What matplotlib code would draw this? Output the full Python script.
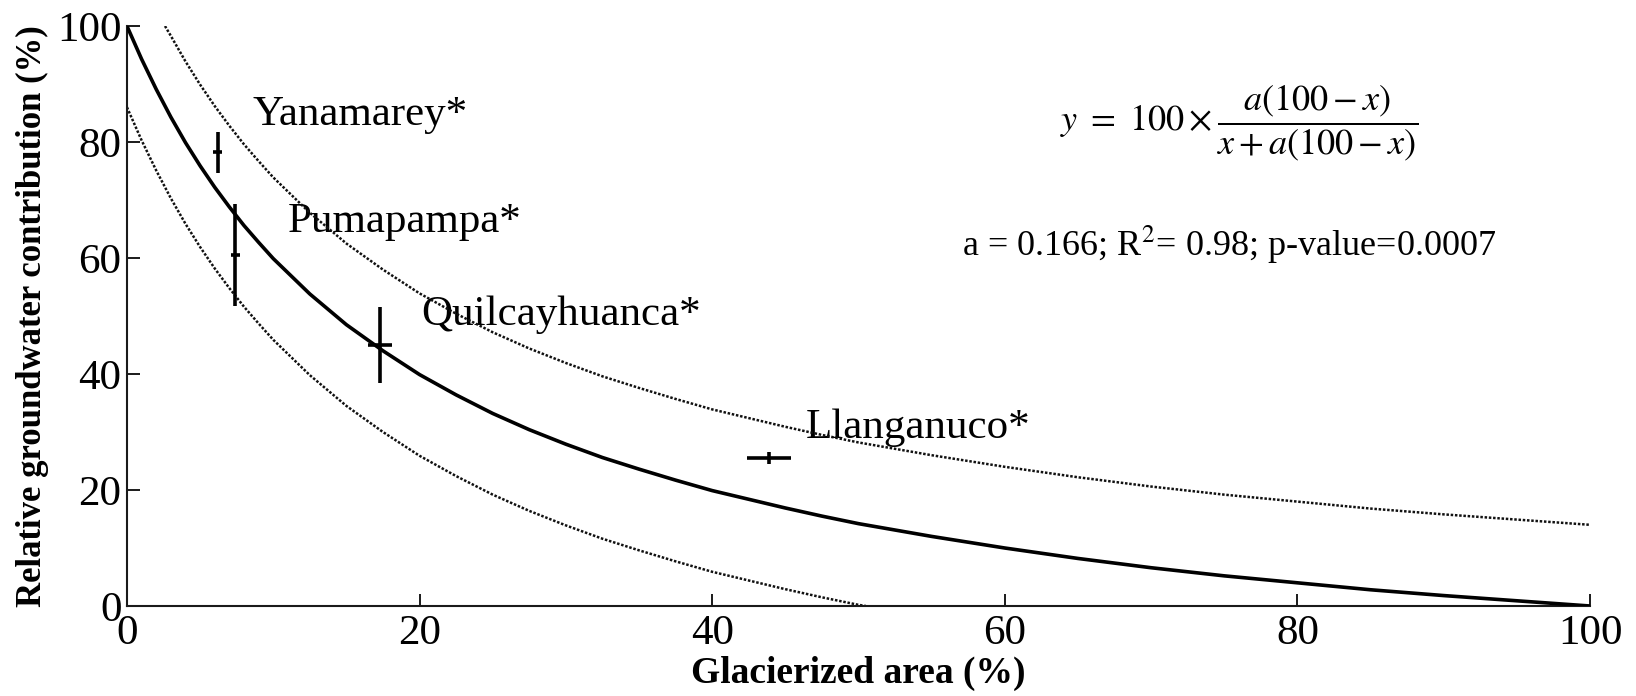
import numpy as np
import matplotlib
matplotlib.use("Agg")
import matplotlib.pyplot as plt

plt.rcParams['font.family'] = ['Liberation Serif', 'DejaVu Serif']
plt.rcParams['mathtext.fontset'] = 'stix'

# fitted curve
fit_x = [0, 1, 2, 3, 4, 5, 6, 7, 8, 9, 10, 12.5, 15, 17.5, 20, 22.5, 25, 27.5,
         30, 32.5, 35, 37.5, 40, 42.5, 45, 47.5, 50, 55, 60, 65, 70, 75, 80,
         85, 90, 95, 100]
fit_y = [100, 94.3, 89.1, 84.3, 79.9, 75.9, 72.2, 68.8, 65.6, 62.7, 59.9, 53.8,
         48.5, 44.0, 39.9, 36.4, 33.2, 30.4, 27.9, 25.6, 23.6, 21.7, 19.9, 18.4,
         16.9, 15.5, 14.2, 12.0, 10.0, 8.2, 6.6, 5.2, 4.0, 2.8, 1.8, 0.9, 0]

# upper dotted bound
up_x = [2.6, 3, 4, 5, 6, 7, 8, 9, 10, 12.5, 15, 17.5, 20, 22.5, 25, 27.5, 30,
        32.5, 35, 37.5, 40, 42.5, 45, 47.5, 50, 55, 60, 65, 70, 75, 80, 85,
        90, 95, 100]
up_y = [100, 98.3, 93.9, 89.9, 86.2, 82.8, 79.6, 76.7, 73.9, 67.8, 62.5, 58.0,
        53.9, 50.4, 47.2, 44.4, 41.9, 39.6, 37.6, 35.7, 33.9, 32.4, 30.9, 29.5,
        28.2, 26.0, 24.0, 22.2, 20.6, 19.2, 18.0, 16.8, 15.8, 14.9, 14.0]

# lower dotted bound
lo_x = [0, 1, 2, 3, 4, 5, 6, 7, 8, 9, 10, 12.5, 15, 17.5, 20, 22.5, 25, 27.5,
        30, 32.5, 35, 37.5, 40, 42.5, 45, 47.5, 50, 50.5]
lo_y = [86, 80.3, 75.1, 70.3, 65.9, 61.9, 58.2, 54.8, 51.6, 48.7, 45.9, 39.8,
        34.5, 30.0, 25.9, 22.4, 19.2, 16.4, 13.9, 11.6, 9.6, 7.7, 5.9, 4.4,
        2.9, 1.5, 0.2, 0]

# catchments
names = ['Yanamarey*', 'Pumapampa*', 'Quilcayhuanca*', 'Llanganuco*']
gx = [6.2, 7.4, 17.3, 43.9]
gy = [78.2, 60.5, 45.0, 25.5]
gx_err = [0.3, 0.3, 0.8, 1.5]
gy_err = [3.5, 8.8, 6.5, 1.1]
label_x = [8.6, 11.0, 20.1, 46.4]
label_y = [82.9, 64.5, 48.4, 29.0]

fig = plt.figure(figsize=(16.36, 6.96), dpi=100)
ax = fig.add_axes([0.0776, 0.1293, 0.8943, 0.8333])

ax.plot(fit_x, fit_y, color='black', lw=2.6, solid_joinstyle='round', zorder=3)
ax.plot(up_x, up_y, color='#111111', lw=1.8, ls=(0, (1, 0.7)), zorder=2)
ax.plot(lo_x, lo_y, color='#111111', lw=1.8, ls=(0, (1, 0.7)), zorder=2)

ax.errorbar(gx, gy, xerr=gx_err, yerr=gy_err, fmt='none', ecolor='black',
            elinewidth=2.6, capsize=0, zorder=4)

for n, tx, ty in zip(names, label_x, label_y):
    ax.text(tx, ty, n, fontsize=31, ha='left', va='baseline', zorder=1)

ax.text(76.0, 83.3, r'$y\ =\ 100 \times \dfrac{a(100 - x)}{x + a(100 - x)}$',
        fontsize=26, ha='center', va='center')
ax.text(57.1, 60.4, r'a = 0.166; R$^{2}$= 0.98; p-value=0.0007',
        fontsize=26, ha='left', va='baseline')

ax.set_xlim(0, 100)
ax.set_ylim(0, 100)
ax.set_xticks([0, 20, 40, 60, 80, 100])
ax.set_yticks([0, 20, 40, 60, 80, 100])
for s in ['top', 'right']:
    ax.spines[s].set_visible(False)
for s in ['left', 'bottom']:
    ax.spines[s].set_linewidth(1.5)
    ax.spines[s].set_color('#1a1a1a')
ax.tick_params(direction='in', length=9, width=1.4, labelsize=31, color='#1a1a1a')
ax.tick_params(axis='y', pad=4)
ax.tick_params(axis='x', pad=6)

ax.set_xlabel('Glacierized area (%)', fontsize=27, fontweight='bold', labelpad=2)
ax.set_ylabel('Relative groundwater contribution (%)', fontsize=25,
              fontweight='bold', labelpad=6)

fig.savefig('out.png', dpi=100)
